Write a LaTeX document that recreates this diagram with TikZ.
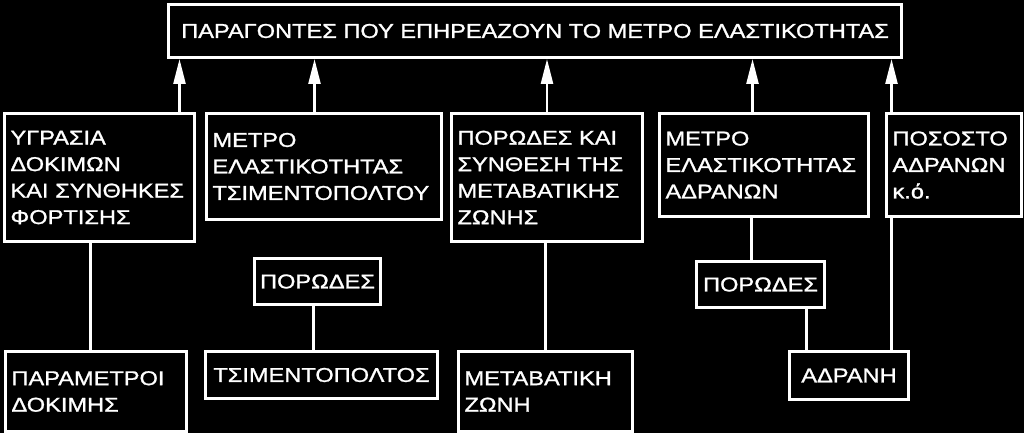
\documentclass[tikz,border=0pt]{standalone}
\usepackage{fontspec}
\setmainfont{Liberation Sans}[FakeStretch=1.18,FakeBold=1.2]
\usetikzlibrary{arrows.meta}

\begin{document}
\begin{tikzpicture}[
  x=1pt,y=-1pt,
  font=\fontsize{20}{26.5}\selectfont,
  box/.style={draw=white,text=white,line width=3pt,anchor=north west,align=left,inner xsep=6pt,inner ysep=0pt},
  tag/.style={draw=white,text=white,line width=3pt,anchor=north west,inner sep=0pt},
  line/.style={draw=white,line width=2.5pt},
  arr/.style={line,-{Triangle[width=12pt,length=25pt]}},
]
\fill[black] (0,0) rectangle (1024,433);
\useasboundingbox (0,0) rectangle (1024,433);
% title
\node[tag,minimum width=733pt,minimum height=53pt] (title) at (167,3) {ΠΑΡΑΓΟΝΤΕΣ ΠΟΥ ΕΠΗΡΕΑΖΟΥΝ ΤΟ ΜΕΤΡΟ ΕΛΑΣΤΙΚΟΤΗΤΑΣ};
% factors
\node[box,text width=178pt,minimum height=128pt] (moist)   at (3,112)   {ΥΓΡΑΣΙΑ\\ΔΟΚΙΜΩΝ\\ΚΑΙ ΣΥΝΘΗΚΕΣ\\ΦΟΡΤΙΣΗΣ};
\node[box,text width=223pt,minimum height=106pt] (pastemod) at (205,112) {ΜΕΤΡΟ\\ΕΛΑΣΤΙΚΟΤΗΤΑΣ\\ΤΣΙΜΕΝΤΟΠΟΛΤΟΥ};
\node[box,text width=179pt,minimum height=128pt] (itz)     at (450,112) {ΠΟΡΩΔΕΣ ΚΑΙ\\ΣΥΝΘΕΣΗ ΤΗΣ\\ΜΕΤΑΒΑΤΙΚΗΣ\\ΖΩΝΗΣ};
\node[box,text width=197pt,minimum height=103pt] (aggmod)  at (658,112) {ΜΕΤΡΟ\\ΕΛΑΣΤΙΚΟΤΗΤΑΣ\\ΑΔΡΑΝΩΝ};
\node[box,text width=123pt,minimum height=103pt] (aggfrac) at (885,112) {ΠΟΣΟΣΤΟ\\ΑΔΡΑΝΩΝ\\κ.ό.};
% porosity
\node[tag,minimum width=126pt,minimum height=46pt] (por1) at (253,257) {ΠΟΡΩΔΕΣ};
\node[tag,minimum width=128pt,minimum height=46pt] (por2) at (695,260) {ΠΟΡΩΔΕΣ};
% components
\node[box,text width=169pt,minimum height=80pt] (test)  at (4,350)   {ΠΑΡΑΜΕΤΡΟΙ\\ΔΟΚΙΜΗΣ};
\node[tag,minimum width=232pt,minimum height=47pt] (paste) at (204,350) {ΤΣΙΜΕΝΤΟΠΟΛΤΟΣ};
\node[box,text width=162pt,minimum height=80pt] (zone)  at (457,350) {ΜΕΤΑΒΑΤΙΚΗ\\ΖΩΝΗ};
\node[tag,minimum width=119pt,minimum height=48pt] (agg)   at (788,350) {ΑΔΡΑΝΗ};
% arrows up
\path (moist.north) ++(80,0) coordinate (u1);
\path (pastemod.north) ++(-9.5,0) coordinate (u2);
\path (aggmod.north) ++(-11.5,0) coordinate (u4);
\path (aggfrac.north) ++(-62.5,0) coordinate (u5);
\draw[arr] (u1) -- (u1 |- title.south);
\draw[arr] (u2) -- (u2 |- title.south);
\draw[arr] (itz.north) -- (itz.north |- title.south);
\draw[arr] (u4) -- (u4 |- title.south);
\draw[arr] (u5) -- (u5 |- title.south);
% links down
\path (test.north) ++(-5.5,0) coordinate (d1);
\path (paste.north) ++(-8,0) coordinate (d2);
\path (por2.north) ++(-9,0) coordinate (d4);
\path (agg.north) ++(-42.5,0) coordinate (d5);
\path (agg.north) ++(42.5,0) coordinate (d6);
\draw[line] (d1 |- moist.south) -- (d1);
\draw[line] (d2 |- por1.south) -- (d2);
\draw[line] (zone.north |- itz.south) -- (zone.north);
\draw[line] (d4 |- aggmod.south) -- (d4);
\draw[line] (d5 |- por2.south) -- (d5);
\draw[line] (d6 |- aggfrac.south) -- (d6);
\end{tikzpicture}
\end{document}
